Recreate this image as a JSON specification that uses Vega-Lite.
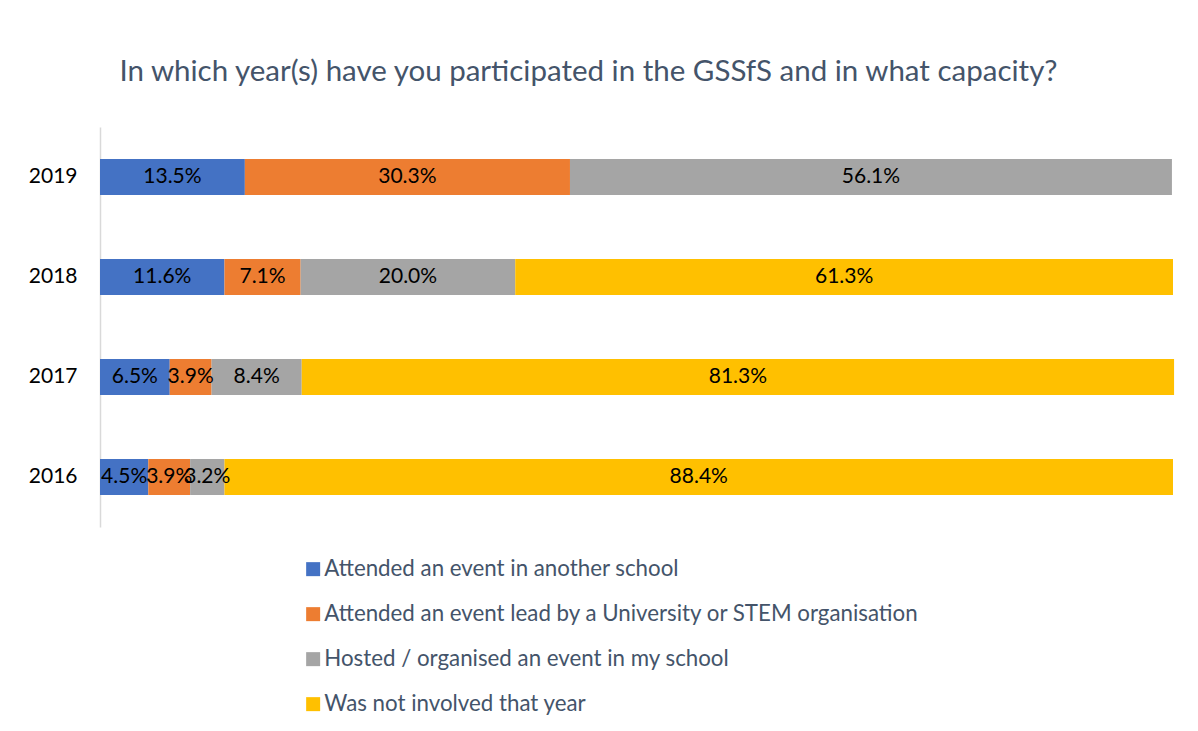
{
  "$schema": "https://vega.github.io/schema/vega-lite/v6.json",
  "width": 1073,
  "height": 400,
  "autosize": {"type": "none"},
  "padding": {"left": 100, "top": 127, "right": 25, "bottom": 204},
  "background": "white",
  "view": {"stroke": null},
  "title": {
    "text": "In which year(s) have you participated in the GSSfS and in what capacity?",
    "font": "Lato",
    "fontSize": 29.5,
    "fontWeight": "normal",
    "color": "#44546A",
    "anchor": "middle",
    "dx": -48,
    "offset": 40
  },
  "data": {
    "values": [
      {"year": "2019", "cat": "Attended an event in another school", "k": 1, "v": 0.135},
      {"year": "2019", "cat": "Attended an event lead by a University or STEM organisation", "k": 2, "v": 0.303},
      {"year": "2019", "cat": "Hosted / organised an event in my school", "k": 3, "v": 0.561},
      {"year": "2018", "cat": "Attended an event in another school", "k": 1, "v": 0.116},
      {"year": "2018", "cat": "Attended an event lead by a University or STEM organisation", "k": 2, "v": 0.071},
      {"year": "2018", "cat": "Hosted / organised an event in my school", "k": 3, "v": 0.200},
      {"year": "2018", "cat": "Was not involved that year", "k": 4, "v": 0.613},
      {"year": "2017", "cat": "Attended an event in another school", "k": 1, "v": 0.065},
      {"year": "2017", "cat": "Attended an event lead by a University or STEM organisation", "k": 2, "v": 0.039},
      {"year": "2017", "cat": "Hosted / organised an event in my school", "k": 3, "v": 0.084},
      {"year": "2017", "cat": "Was not involved that year", "k": 4, "v": 0.813},
      {"year": "2016", "cat": "Attended an event in another school", "k": 1, "v": 0.045},
      {"year": "2016", "cat": "Attended an event lead by a University or STEM organisation", "k": 2, "v": 0.039},
      {"year": "2016", "cat": "Hosted / organised an event in my school", "k": 3, "v": 0.032},
      {"year": "2016", "cat": "Was not involved that year", "k": 4, "v": 0.884}
    ]
  },
  "encoding": {
    "y": {
      "field": "year",
      "type": "ordinal",
      "sort": "descending",
      "scale": {"paddingInner": 0.64, "paddingOuter": 0.32},
      "axis": {
        "title": null,
        "ticks": false,
        "grid": false,
        "domainColor": "#D9D9D9",
        "domainWidth": 1.5,
        "labelFont": "Lato",
        "labelFontSize": 21,
        "labelColor": "#000000",
        "labelPadding": 23
      }
    }
  },
  "layer": [
    {
      "mark": {"type": "bar"},
      "encoding": {
        "x": {"field": "v", "type": "quantitative", "stack": "zero", "scale": {"domain": [0, 1]}, "axis": null},
        "order": {"field": "k", "type": "quantitative"},
        "color": {
          "field": "cat",
          "type": "nominal",
          "scale": {
            "domain": ["Attended an event in another school", "Attended an event lead by a University or STEM organisation", "Hosted / organised an event in my school", "Was not involved that year"],
            "range": ["#4472C4", "#ED7D31", "#A5A5A5", "#FFC000"]
          },
          "legend": {
            "title": null,
            "orient": "none",
            "legendX": 202,
            "legendY": 431,
            "direction": "vertical",
            "symbolType": "square",
            "symbolSize": 196,
            "symbolStrokeWidth": 0,
            "labelFont": "Lato",
            "labelFontSize": 22.3,
            "labelColor": "#44546A",
            "labelOffset": 0,
            "rowPadding": 22,
            "labelLimit": 900
          }
        }
      }
    },
    {
      "mark": {"type": "text", "font": "Lato", "fontSize": 21, "color": "#000000"},
      "encoding": {
        "x": {"field": "v", "type": "quantitative", "stack": "zero", "bandPosition": 0.5},
        "order": {"field": "k", "type": "quantitative"},
        "detail": {"field": "cat"},
        "text": {"field": "v", "type": "quantitative", "format": ".1%"}
      }
    }
  ]
}
